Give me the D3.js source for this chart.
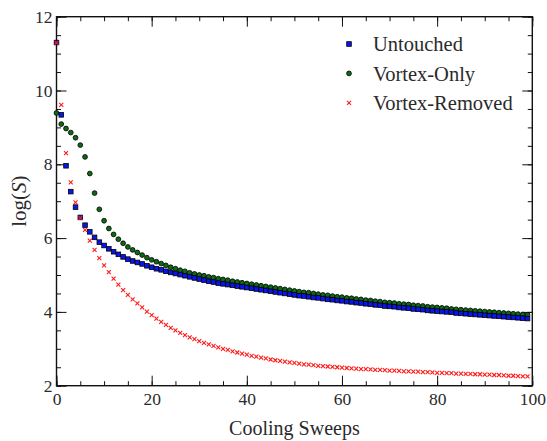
<!DOCTYPE html>
<html>
<head>
<meta charset="utf-8">
<script src="https://cdn.jsdelivr.net/npm/d3@7/dist/d3.min.js"></script>
<style>
  body { margin: 0; background: #fff; }
  text { font-family: "Liberation Serif", "DejaVu Serif", serif; fill: #2a2a2a; }
</style>
</head>
<body>
<script>
  // chart values (sweep index 0..99)
  const sweeps = d3.range(0, 100);

  const untouched = [
    11.30, 9.34, 7.96, 7.26, 6.84, 6.56, 6.35, 6.17, 6.02, 5.89,
    5.80, 5.71, 5.63, 5.56, 5.49, 5.43, 5.38, 5.34, 5.30, 5.25,
    5.21, 5.17, 5.14, 5.10, 5.07, 5.04, 5.01, 4.98, 4.95, 4.92,
    4.89, 4.86, 4.83, 4.81, 4.78, 4.76, 4.74, 4.72, 4.70, 4.68,
    4.66, 4.64, 4.62, 4.60, 4.58, 4.56, 4.54, 4.52, 4.50, 4.48,
    4.46, 4.44, 4.43, 4.41, 4.39, 4.38, 4.36, 4.34, 4.33, 4.31,
    4.30, 4.28, 4.27, 4.25, 4.24, 4.22, 4.21, 4.19, 4.18, 4.16,
    4.15, 4.14, 4.12, 4.11, 4.10, 4.08, 4.07, 4.06, 4.04, 4.03,
    4.02, 4.01, 4.00, 3.99, 3.97, 3.96, 3.95, 3.94, 3.93, 3.92,
    3.91, 3.90, 3.89, 3.88, 3.87, 3.86, 3.85, 3.84, 3.83, 3.82
  ];

  const vortexOnly = [
    9.39, 9.09, 8.97, 8.86, 8.72, 8.52, 8.20, 7.75, 7.22, 6.78,
    6.47, 6.26, 6.10, 5.97, 5.86, 5.76, 5.68, 5.61, 5.54, 5.47,
    5.41, 5.36, 5.31, 5.26, 5.21, 5.17, 5.13, 5.10, 5.06, 5.03,
    5.00, 4.98, 4.95, 4.93, 4.90, 4.88, 4.86, 4.83, 4.81, 4.79,
    4.77, 4.75, 4.73, 4.71, 4.69, 4.67, 4.65, 4.63, 4.61, 4.59,
    4.57, 4.55, 4.53, 4.52, 4.50, 4.48, 4.46, 4.45, 4.43, 4.41,
    4.40, 4.38, 4.37, 4.35, 4.34, 4.32, 4.31, 4.29, 4.28, 4.26,
    4.25, 4.24, 4.22, 4.21, 4.20, 4.18, 4.17, 4.16, 4.14, 4.13,
    4.12, 4.11, 4.10, 4.08, 4.07, 4.06, 4.05, 4.04, 4.03, 4.02,
    4.01, 4.00, 3.99, 3.98, 3.97, 3.96, 3.95, 3.94, 3.93, 3.92
  ];

  const vortexRemoved = [
    11.29, 9.61, 8.30, 7.51, 6.97, 6.55, 6.22, 5.93, 5.68, 5.46,
    5.26, 5.08, 4.90, 4.74, 4.59, 4.46, 4.34, 4.23, 4.12, 4.01,
    3.91, 3.82, 3.73, 3.65, 3.57, 3.50, 3.43, 3.37, 3.31, 3.26,
    3.21, 3.16, 3.12, 3.08, 3.04, 3.00, 2.97, 2.93, 2.90, 2.87,
    2.84, 2.81, 2.79, 2.76, 2.74, 2.71, 2.69, 2.67, 2.65, 2.63,
    2.62, 2.60, 2.58, 2.57, 2.56, 2.54, 2.53, 2.52, 2.51, 2.50,
    2.49, 2.48, 2.47, 2.46, 2.45, 2.45, 2.44, 2.43, 2.43, 2.42,
    2.41, 2.41, 2.40, 2.39, 2.39, 2.38, 2.38, 2.37, 2.37, 2.36,
    2.35, 2.35, 2.34, 2.34, 2.33, 2.33, 2.32, 2.32, 2.31, 2.31,
    2.30, 2.30, 2.29, 2.29, 2.28, 2.27, 2.27, 2.26, 2.25, 2.25
  ];

  const xTicks = [0, 20, 40, 60, 80, 100];
  const yTicks = [2, 4, 6, 8, 10, 12];
  const xMinor = d3.range(0, 101, 5);
  const yMinor = d3.range(2, 12.01, 0.5);

  const seriesNames = ['Untouched', 'Vortex-Only', 'Vortex-Removed'];

  const margin = { top: 16.7, right: 14.7, bottom: 55.3, left: 56.5 },
        width = 547 - margin.left - margin.right,
        height = 441 - margin.top - margin.bottom;

  const colors = { blue: '#0a14f0', green: '#0b6b12', red: '#ff1a1a' };

  const x = d3.scaleLinear().domain([0, 100]).range([0, width]);
  const y = d3.scaleLinear().domain([2, 12]).range([height, 0]);

  const svg = d3.select('body')
    .append('svg')
      .attr('width', 547)
      .attr('height', 441)
    .append('g')
      .attr('transform', `translate(${margin.left}, ${margin.top})`);

  // ticks on all four sides, pointing in
  function axisGroup(axis, tx, ty) {
    const g = svg.append('g')
      .attr('transform', `translate(${tx}, ${ty})`)
      .call(axis);
    g.select('.domain').remove();
    g.selectAll('line').attr('stroke', '#111').attr('stroke-width', 1);
    return g;
  }

  // minor
  axisGroup(d3.axisBottom(x).tickValues(xMinor).tickSize(-4.5).tickFormat(''), 0, height);
  axisGroup(d3.axisTop(x).tickValues(xMinor).tickSize(-4.5).tickFormat(''), 0, 0);
  axisGroup(d3.axisLeft(y).tickValues(yMinor).tickSize(-4.5).tickFormat(''), 0, 0);
  axisGroup(d3.axisRight(y).tickValues(yMinor).tickSize(-4.5).tickFormat(''), width, 0);

  // major
  const xAxis = axisGroup(d3.axisBottom(x).tickValues(xTicks).tickSize(-10).tickPadding(7), 0, height);
  axisGroup(d3.axisTop(x).tickValues(xTicks).tickSize(-10).tickFormat(''), 0, 0);
  const yAxis = axisGroup(d3.axisLeft(y).tickValues(yTicks).tickSize(-10).tickPadding(4), 0, 0);
  axisGroup(d3.axisRight(y).tickValues(yTicks).tickSize(-10).tickFormat(''), width, 0);

  xAxis.selectAll('text')
    .style('font-size', '17.5px')
    .style('font-family', 'Liberation Serif')
    .attr('fill', '#2a2a2a');
  yAxis.selectAll('text')
    .style('font-size', '17.5px')
    .style('font-family', 'Liberation Serif')
    .attr('fill', '#2a2a2a');

  // frame
  svg.append('rect')
    .attr('width', width)
    .attr('height', height)
    .attr('fill', 'none')
    .attr('stroke', '#111')
    .attr('stroke-width', 1.4);

  // axis titles
  svg.append('text')
    .attr('x', width / 2)
    .attr('y', height + 49)
    .style('text-anchor', 'middle')
    .style('font-size', '20px')
    .text('Cooling Sweeps');

  const ylab = svg.append('text')
    .attr('transform', 'rotate(-90)')
    .attr('x', -height / 2)
    .attr('y', -margin.left + 26)
    .style('text-anchor', 'middle')
    .style('font-size', '21px');
  ylab.append('tspan').text('log(');
  ylab.append('tspan').style('font-style', 'italic').text('S');
  ylab.append('tspan').text(')');

  // marker drawers: xs / ys are pixel positions
  function drawCircles(g, xs, ys) {
    g.selectAll('circle')
      .data(ys)
      .enter().append('circle')
        .attr('cx', (d, i) => xs[i])
        .attr('cy', d => d)
        .attr('r', 2.4)
        .attr('fill', colors.green)
        .attr('stroke', '#000')
        .attr('stroke-width', 0.8);
  }
  function drawSquares(g, xs, ys) {
    g.selectAll('rect')
      .data(ys)
      .enter().append('rect')
        .attr('x', (d, i) => xs[i] - 2.3)
        .attr('y', d => d - 2.3)
        .attr('width', 4.6)
        .attr('height', 4.6)
        .attr('fill', colors.blue)
        .attr('stroke', '#000')
        .attr('stroke-width', 0.8);
  }
  function drawCrosses(g, xs, ys) {
    g.selectAll('path')
      .data(ys)
      .enter().append('path')
        .attr('transform', (d, i) => `translate(${xs[i]}, ${d})`)
        .attr('d', 'M-2,-2L2,2M-2,2L2,-2')
        .attr('stroke', colors.red)
        .attr('stroke-width', 1.1)
        .attr('fill', 'none');
  }

  const xs = sweeps.map(d => x(d));
  drawCircles(svg.append('g'), xs, vortexOnly.map(d => y(d)));
  drawSquares(svg.append('g'), xs, untouched.map(d => y(d)));
  drawCrosses(svg.append('g'), xs, vortexRemoved.map(d => y(d)));

  // legend
  const rowGap = 29.4;
  const legend = svg.append('g')
    .attr('transform', `translate(${349 - margin.left}, ${44 - margin.top})`);
  drawSquares(legend.append('g'), [0], [0]);
  drawCircles(legend.append('g'), [0], [rowGap]);
  drawCrosses(legend.append('g'), [0], [2 * rowGap]);

  legend.selectAll('text.lab')
    .data(seriesNames)
    .enter().append('text')
      .attr('class', 'lab')
      .attr('x', 24)
      .attr('y', (d, i) => i * rowGap)
      .attr('dy', '0.35em')
      .style('font-size', '20.5px')
      .text(d => d);
</script>
</body>
</html>
